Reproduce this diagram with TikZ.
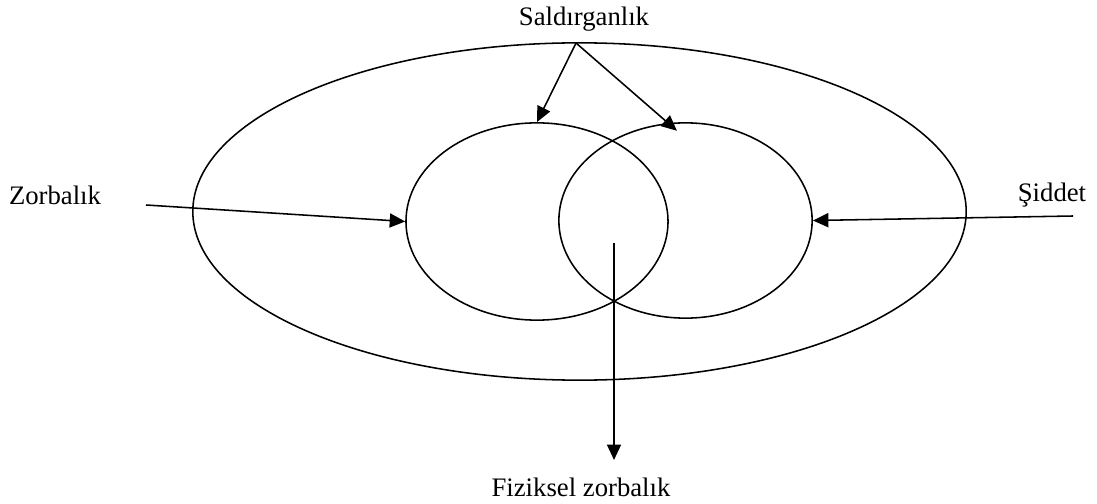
\documentclass[tikz,border=0pt]{standalone}
\usepackage{fontspec}
\setmainfont{Liberation Serif}
\usetikzlibrary{shapes.geometric,arrows.meta,positioning}

\begin{document}
\begin{tikzpicture}[x=0.025cm, y=-0.025cm, line width=1.1pt,
		ring/.style={draw, ellipse, inner sep=0pt},
		label/.style={font=\fontsize{19}{22}\selectfont, inner sep=1pt},
		arr/.style={-{Triangle[length=11pt,width=10pt]}}]
		\useasboundingbox (0,0) rectangle (1097,504);
		
		% outer ellipse and the two circles
		\node[ring, minimum width=19.33cm, minimum height=8.43cm] (outer) at (579.5,211.5) {};
		\node[ring, minimum width=6.55cm, minimum height=4.93cm] (left) at (537,221.5) {};
		\node[ring, minimum width=6.33cm, minimum height=4.88cm] (right) at (685.5,220.5) {};
		
		% labels
		\node[label] (sald) at (584,19) {Saldırganlık};
		\node[label] (zorb) at (55,195) {Zorbalık};
		\node[label] (sidd) at (1052,195) {Şiddet};
		\node[label] (fiz) at (581,487) {Fiziksel zorbalık};
		
		\coordinate (apex) at (576,43);
		\coordinate (zstart) at (146,205);
		\coordinate (sstart) at (1073,216);
		\coordinate (fstart) at (614,243);
		
		% arrows
		\draw[arr] (apex) -- (left.north);
		\draw[arr] (apex) -- ([yshift=-6pt]right.95);
		\draw[arr] (zstart) -- (left.west);
		\draw[arr] (sstart) -- (right.east);
		\draw[arr] (fstart) -- (614,460);
		
	\end{tikzpicture}
\end{document}
